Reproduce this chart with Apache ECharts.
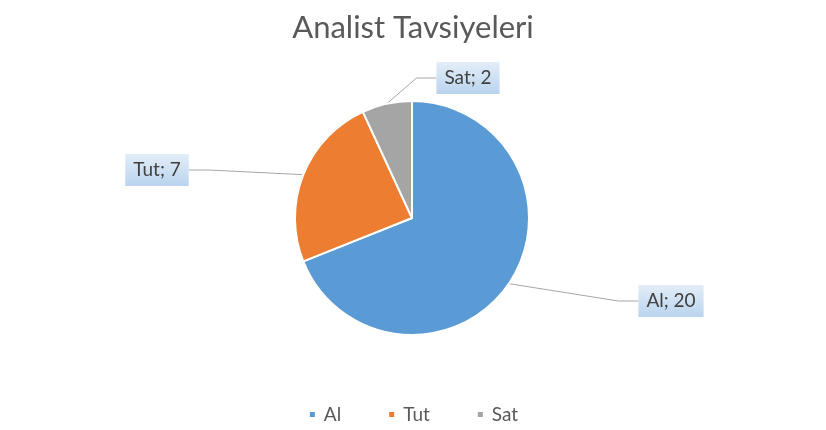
<!DOCTYPE html>
<html>
<head>
<meta charset="utf-8">
<script src="https://cdn.jsdelivr.net/npm/echarts@6/dist/echarts.min.js"></script>
<style>
html,body{margin:0;padding:0;background:#fff;}
#main{width:826px;height:430px;}
</style>
</head>
<body>
<div id="main"></div>
<script>
const title = 'Analist Tavsiyeleri';
const categories = ['Al', 'Tut', 'Sat'];
const values = [20, 7, 2];

const colors = ['#5B9BD5', '#ED7D31', '#A5A5A5'];
const labelPos = [[671, 301], [157, 170], [468, 78]];
const FONT = 'Lato';

const chart = echarts.init(document.getElementById('main'), null, {renderer: 'canvas'});
chart.setOption({
  animation: false,
  color: colors,
  title: {
    text: title,
    left: 'center',
    top: 7,
    textStyle: {fontFamily: FONT, fontSize: 31, fontWeight: 'normal', color: '#595959'}
  },
  legend: {
    top: 400,
    left: 'center',
    icon: 'rect',
    itemWidth: 7,
    itemHeight: 7,
    itemGap: 46,
    textStyle: {fontFamily: FONT, fontSize: 19, color: '#595959', padding: [0, 0, 0, 3]},
    data: categories
  },
  series: [{
    type: 'pie',
    center: [412, 218],
    radius: [0, 117],
    startAngle: 90,
    clockwise: true,
    itemStyle: {borderColor: '#fff', borderWidth: 2},
    label: {
      show: true,
      formatter: '{b}; {c}',
      fontFamily: FONT,
      fontSize: 19,
      color: '#404040',
      padding: [7, 8, 6, 8],
      backgroundColor: new echarts.graphic.LinearGradient(0, 0, 0, 1, [
        {offset: 0, color: '#e3edf8'},
        {offset: 1, color: '#b9d4ee'}
      ])
    },
    labelLine: {
      show: true,
      length: 10,
      length2: 20,
      lineStyle: {color: '#a6a6a6', width: 1}
    },
    labelLayout: function (params) {
      const p = labelPos[params.dataIndex];
      return {x: p[0], y: p[1], align: 'center', verticalAlign: 'middle'};
    },
    emphasis: {disabled: true},
    data: categories.map((c, i) => ({name: c, value: values[i]}))
  }]
});
</script>
</body>
</html>
